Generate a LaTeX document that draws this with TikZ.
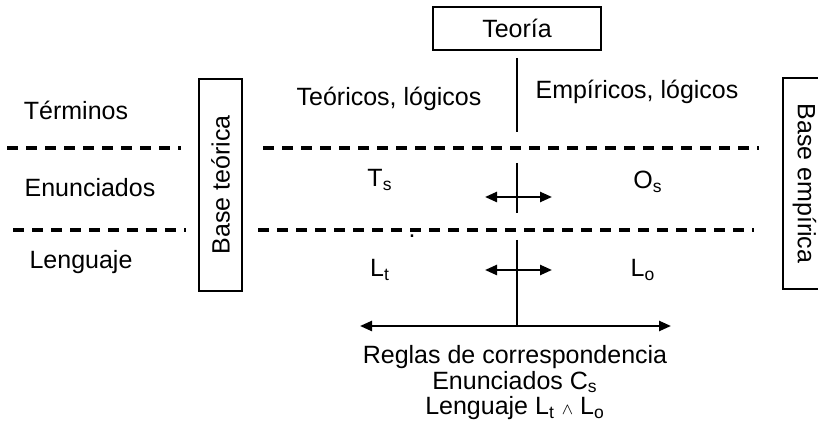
\documentclass[tikz,border=0pt]{standalone}
\usepackage{fontspec}
\setmainfont{Liberation Sans}
\usetikzlibrary{arrows.meta}

\tikzset{
  txt/.style={font=\fontsize{12.5}{15}\selectfont, inner sep=0pt},
  frame/.style={draw, line width=1pt, font=\fontsize{12.5}{15}\selectfont, minimum height=21.5pt},
  sep/.style={line width=1.6pt, dash pattern=on 5.5pt off 4pt},
  stem/.style={line width=1.3pt},
  both/.style={line width=1.2pt, {Triangle[length=6pt,width=5pt]}-{Triangle[length=6pt,width=5pt]}}
}

\begin{document}
\begin{tikzpicture}[x=0.5pt, y=-0.5pt]
\clip (0,0) rectangle (818,431);

\node[frame, minimum width=84pt] (teoria) at (517,28.5) {Teoría};
\node[frame, minimum width=106pt, rotate=90] (bt) at (220.5,185) {Base teórica};
\node[frame, minimum width=105.5pt, rotate=-90] (be) at (804.5,183.5) {Base empírica};

\node[txt] (term) at (76,110) {Términos};
\node[txt] (enun) at (90,188) {Enunciados};
\node[txt] (leng) at (81,262) {Lenguaje};

\node[txt] (teo) at (389,99) {Teóricos, lógicos};
\node[txt] (emp) at (637,92) {Empíricos, lógicos};

\node[txt] (ts) at (380,180) {T\textsubscript{s}};
\node[txt] (os) at (648,182) {O\textsubscript{s}};
\node[txt] (lt) at (380,270) {L\textsubscript{t}};
\node[txt] (lo) at (643,270) {L\textsubscript{o}};
\node[txt] (pt) at (412,236) {.};

\coordinate (a1) at (7,148);   \coordinate (a2) at (181,148);
\coordinate (a3) at (263,148); \coordinate (a4) at (759,148);
\coordinate (b1) at (13,230);  \coordinate (b2) at (186,230);
\coordinate (b3) at (258,230); \coordinate (b4) at (754,230);
\draw[sep] (a1) -- (a2);
\draw[sep] (a3) -- (a4);
\draw[sep] (b1) -- (b2);
\draw[sep] (b3) -- (b4);

\coordinate (v1) at (517,58);  \coordinate (v2) at (517,132);
\coordinate (v3) at (517,163); \coordinate (v4) at (517,213);
\coordinate (v5) at (517,240); \coordinate (v6) at (517,326);
\draw[stem] (v1) -- (v2);
\draw[stem] (v3) -- (v4);
\draw[stem] (v5) -- (v6);

\coordinate (h1) at (485,197); \coordinate (h2) at (552,197);
\coordinate (h3) at (485,270); \coordinate (h4) at (552,270);
\coordinate (h5) at (360,326); \coordinate (h6) at (671,326);
\draw[both] (h1) -- (h2);
\draw[both] (h3) -- (h4);
\draw[both] (h5) -- (h6);

\node[txt] (reglas) at (515,357) {Reglas de correspondencia};
\node[txt] (enc) at (515,382) {Enunciados C\textsubscript{s}};
\node[txt] (lenc) at (515,408) {Lenguaje L\textsubscript{t} {\footnotesize$\wedge$} L\textsubscript{o}};
\end{tikzpicture}
\end{document}
